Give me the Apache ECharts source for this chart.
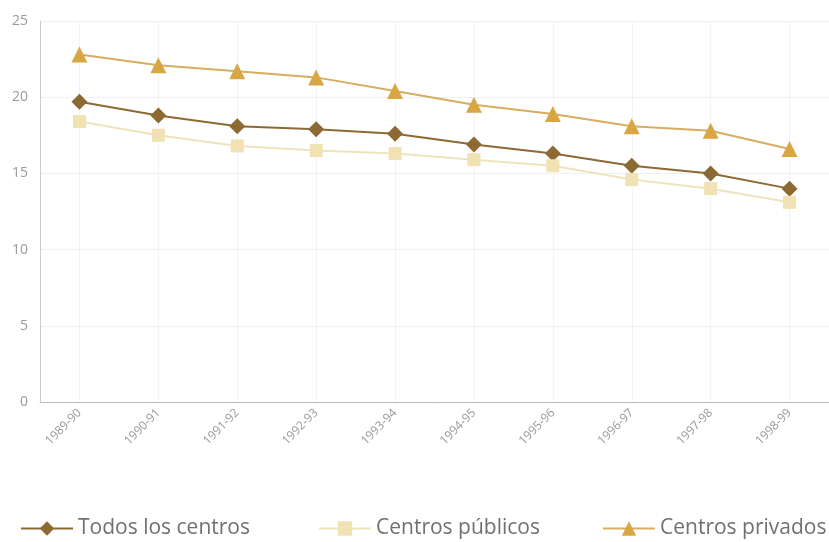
<!DOCTYPE html>
<html><head><meta charset="utf-8">
<script src="https://cdn.jsdelivr.net/npm/echarts@6/dist/echarts.min.js"></script>
<style>html,body{margin:0;padding:0;background:#fff}#c{width:829px;height:542px}</style>
</head><body><div id="c"></div>
<script>
const categories = ['1989-90','1990-91','1991-92','1992-93','1993-94','1994-95','1995-96','1996-97','1997-98','1998-99'];
const todos = [19.7, 18.8, 18.1, 17.9, 17.6, 16.9, 16.3, 15.5, 15.0, 14.0];
const publicos = [18.4, 17.5, 16.8, 16.5, 16.3, 15.9, 15.5, 14.6, 14.0, 13.1];
const privados = [22.8, 22.1, 21.7, 21.3, 20.4, 19.5, 18.9, 18.1, 17.8, 16.6];
const yTicks = [0, 5, 10, 15, 20, 25];

const font = 'Open Sans, Noto Sans, sans-serif';
const chart = echarts.init(document.getElementById('c'), null, {renderer: 'canvas'});
const legendBase = {top: 518, padding: 0, itemWidth: 52, itemHeight: 18, textStyle: {color: '#707070', fontSize: 21, fontFamily: font}, itemGap: 4};
chart.setOption({
  animation: false,
  grid: {left: 40, top: 21, width: 798, height: 381},
  legend: [
    Object.assign({left: 20, data: ['Todos los centros']}, legendBase),
    Object.assign({left: 318, data: ['Centros públicos']}, legendBase),
    Object.assign({left: 602, data: ['Centros privados']}, legendBase)
  ],
  xAxis: {
    type: 'category', data: categories, boundaryGap: true,
    axisLine: {lineStyle: {color: '#bbb'}}, axisTick: {show: false, alignWithLabel: true},
    axisLabel: {rotate: 45, color: '#999', fontSize: 12, fontFamily: font, margin: 9},
    splitLine: {show: true, alignWithLabel: true, lineStyle: {color: '#f3f3f3'}}
  },
  yAxis: {
    type: 'value', min: yTicks[0], max: yTicks[yTicks.length-1], interval: 5,
    axisLine: {show: true, lineStyle: {color: '#ccc'}}, axisTick: {show: false},
    axisLabel: {color: '#999', fontSize: 14, fontFamily: font, margin: 12},
    splitLine: {lineStyle: {color: '#f0f0f0'}}
  },
  series: [
    {name: 'Todos los centros', type: 'line', data: todos, symbol: 'diamond', symbolSize: 16,
     itemStyle: {color: '#8d6934'}, lineStyle: {color: '#8d6934', width: 2}},
    {name: 'Centros públicos', type: 'line', data: publicos, symbol: 'rect', symbolSize: 13,
     itemStyle: {color: '#f0e2b2'}, lineStyle: {color: '#efe3bb', width: 2}},
    {name: 'Centros privados', type: 'line', data: privados, symbol: 'triangle', symbolSize: 16,
     itemStyle: {color: '#d9a644'}, lineStyle: {color: '#d7ad5f', width: 2}}
  ]
});
</script></body></html>
